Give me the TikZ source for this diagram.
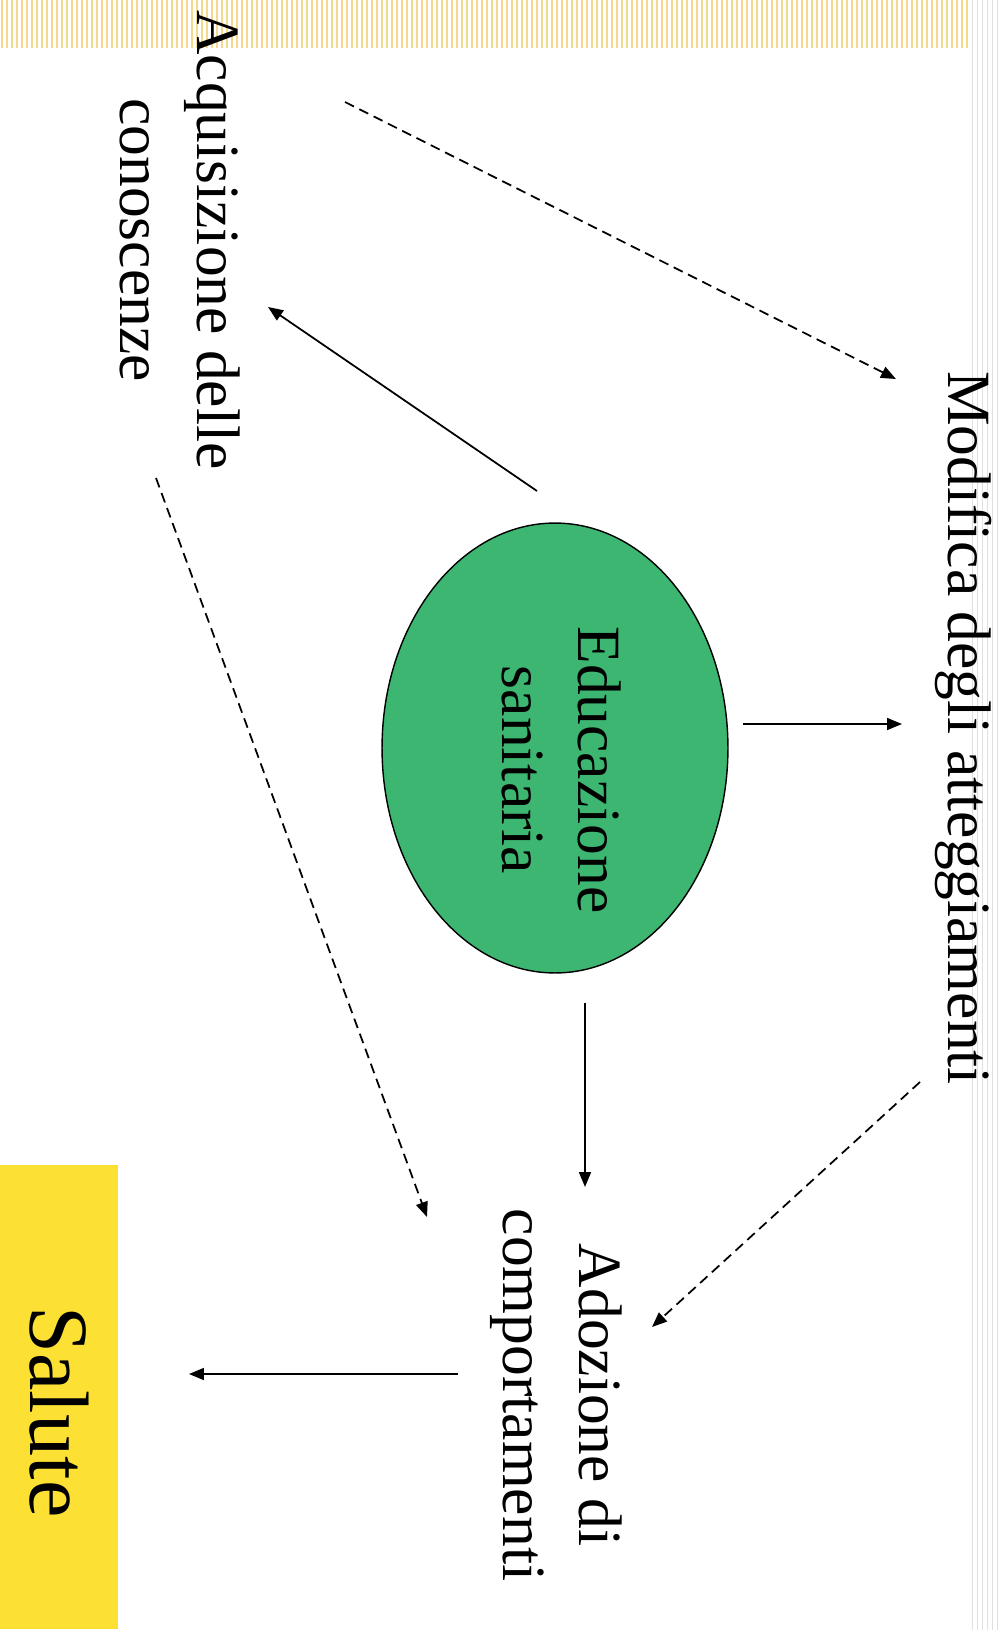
\documentclass[tikz,border=0pt]{standalone}
\usepackage{fontspec}
\setmainfont{Liberation Serif}
\usetikzlibrary{arrows.meta,shapes.geometric,calc}
\definecolor{edugreen}{RGB}{60,182,112}
\definecolor{salyellow}{RGB}{252,224,52}
\definecolor{stripegold}{RGB}{244,216,140}
\definecolor{stripegray}{RGB}{224,224,224}
\begin{document}
\begin{tikzpicture}[x=0.02cm,y=-0.02cm,
  every node/.style={inner sep=0pt, font=\fontsize{35}{43.5}\selectfont},
  vtext/.style={rotate=-90, align=center},
  solidarr/.style={line width=1pt, -{Triangle[length=0.3cm,width=0.24cm]}},
  dasharr/.style={solidarr, dash pattern=on 0.2cm off 0.12cm}]
\useasboundingbox (0,0) rectangle (1001,1630);
\fill [white] (0,0) rectangle (1001,1630);
\foreach \i in {2,7,...,967}
  \draw [stripegold, line width=0.6pt] (\i,0) -- (\i,48);
\foreach \i in {972,977,...,1000}
  \draw [stripegray, line width=0.5pt] (\i,0) -- (\i,1630);
\node [vtext] (acq) at (180,240) {Acquisizione delle\\conoscenze};
\node [vtext] (mod) at (964,728) {Modifica degli atteggiamenti};
\node [vtext, ellipse, draw=black, line width=0.8pt, fill=edugreen, inner xsep=-0.4cm, minimum width=9cm, minimum height=6.92cm] (edu) at (555,748) {\hspace*{0.88cm}Educazione\\\hspace*{0.88cm}sanitaria\rule[-0.28cm]{0pt}{0.1pt}};
\node [vtext] (ado) at (556,1395) {Adozione di\\comportamenti};
\node [vtext, fill=salyellow, minimum width=9.3cm, minimum height=2.36cm, font=\fontsize{48}{56}\selectfont] (sal) at (59,1397) {\hspace*{0.6cm}Salute};
\draw [solidarr] ($(edu)+(-18,-257)$) -- ($(acq)+(88,67)$);
\draw [solidarr] ($(edu)+(188,-24)$) -- ($(mod)+(-62,-4)$);
\draw [solidarr] ($(edu)+(30,255)$) -- ($(ado)+(29,-208)$);
\draw [solidarr] ($(ado)+(-98,-21)$) -- ($(sal)+(130,-23)$);
\draw [dasharr] ($(acq)+(165,-138)$) -- ($(mod)+(-68,-349)$);
\draw [dasharr] ($(acq)+(-24,238)$) -- ($(ado)+(-129,-178)$);
\draw [dasharr] ($(mod)+(-44,354)$) -- ($(ado)+(96,-68)$);
\end{tikzpicture}
\end{document}
